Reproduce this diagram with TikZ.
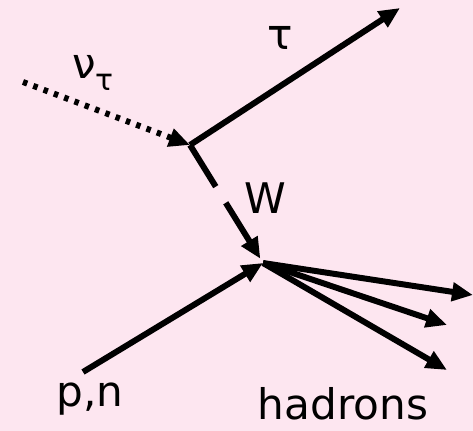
\documentclass[tikz,border=0pt]{standalone}
\usepackage{fontspec}
\setmainfont{DejaVu Sans}
\usetikzlibrary{positioning,arrows.meta}
\definecolor{bgpink}{RGB}{253,230,240}

\begin{document}
\begin{tikzpicture}[x=0.02cm,y=-0.02cm,
			>={Triangle[length=0.42cm,width=0.36cm]},
			every node/.style={font=\fontsize{24}{28}\selectfont},
			particle/.style={line width=3.4pt,->},
			neutrino/.style={particle,dash pattern=on 0.09cm off 0.13cm},
			boson/.style={particle,dash pattern=on 0.98cm off 0.38cm,shorten >=0.1cm}]
			
			\fill[bgpink] (0,0) rectangle (473,431);
			\useasboundingbox (0,0) rectangle (473,431);
			
			\coordinate (nuin) at (23,82);
			\coordinate (lep) at (190,145);
			\coordinate (tauout) at (400,8);
			\coordinate (had) at (263,263);
			\coordinate (nucl) at (83,372);
			\coordinate (hadA) at (473,295);
			\coordinate (hadB) at (447,325);
			\coordinate (hadC) at (447,370);
			
			\node (nulab) at (93,73){ν\raisebox{-0.3em}{\fontsize{17}{17}\selectfont τ}};
			
			\node (taulab) at (280,38){τ};
			
			\node (wlab) at (265,198){W};
			
			\node (pnlab) at (90,399){p,n};
			
			\node (hadlab) at (343,404){hadrons};
			
			\draw[neutrino](nuin)--(lep);
			
			\draw[particle](lep)--(tauout);
			
			\draw[boson](lep)--(had);
			
			\draw[particle](nucl)--(had);
			
			\draw[particle](had)--(hadA);
			
			\draw[particle](had)--(hadB);
			
			\draw[particle](had)--(hadC);
			
		\end{tikzpicture}
\end{document}
